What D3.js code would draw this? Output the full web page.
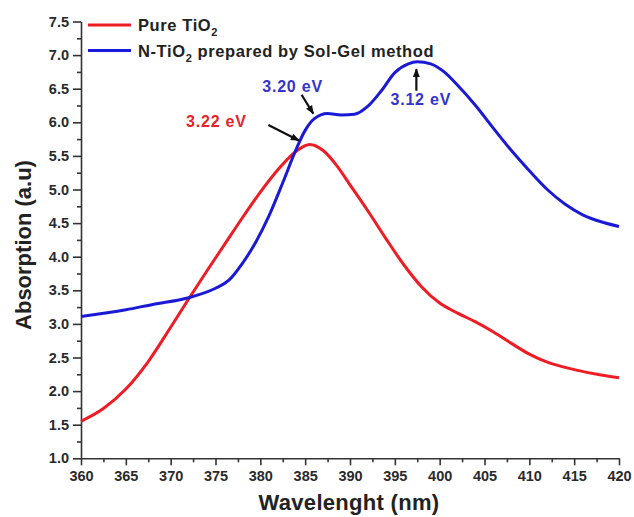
<!DOCTYPE html>
<html>
<head>
<meta charset="utf-8">
<script src="https://cdn.jsdelivr.net/npm/d3@7"></script>
<style>
  body { margin: 0; background: #fff; }
  svg { display: block; font-family: Arial, "Liberation Sans", sans-serif; }
</style>
</head>
<body>
<svg id="chart" width="634" height="517"></svg>
<script>
// wavelength (nm) / absorption
const pureWl  = [360, 362.5, 365, 367.5, 370, 372, 374, 376, 378, 380, 382, 384, 385.5, 387, 388.5, 390, 392, 394, 396, 398, 400, 402, 404, 406, 408, 410, 412, 415, 418, 420];
const pureAbs = [1.55, 1.74, 2.03, 2.44, 2.95, 3.37, 3.78, 4.18, 4.58, 4.96, 5.30, 5.57, 5.67, 5.58, 5.36, 5.07, 4.68, 4.27, 3.88, 3.55, 3.31, 3.16, 3.03, 2.88, 2.71, 2.55, 2.43, 2.32, 2.24, 2.20];

const nWl  = [360, 365, 368, 372, 375, 376.5, 378, 379.5, 381, 382.5, 384, 385, 386, 387.5, 389, 390.5, 392, 393.5, 395, 396.5, 397.5, 399, 400.5, 402, 404, 406, 408, 410, 412, 414, 416, 418, 420];
const nAbs = [3.11, 3.21, 3.29, 3.39, 3.53, 3.65, 3.90, 4.22, 4.62, 5.10, 5.60, 5.88, 6.05, 6.13, 6.11, 6.12, 6.24, 6.47, 6.74, 6.87, 6.90, 6.87, 6.75, 6.55, 6.25, 5.91, 5.58, 5.28, 5.00, 4.78, 4.62, 4.52, 4.45];

const xTicks = d3.range(360, 421, 5);
const yTicks = d3.range(1, 7.51, 0.5);

// band gap labels (text at x,y, arrow from x1,y1 to x2,y2) in data units
const notes = [
  {text: "3.22 eV", color: "#e3242b", x: 375.1, y: 5.93, x1: 380.9, y1: 5.96, x2: 384.3, y2: 5.73},
  {text: "3.20 eV", color: "#3434cc", x: 383.6, y: 6.45, x1: 384.6, y1: 6.41, x2: 385.9, y2: 6.13},
  {text: "3.12 eV", color: "#3434cc", x: 397.9, y: 6.26, x1: 397.4, y1: 6.47, x2: 397.4, y2: 6.79}
];

var width = 634, height = 517;
var margin = {top: 21.5, right: 15, bottom: 58.7, left: 81};

const svg = d3.select("#chart");

const x = d3.scaleLinear().domain([360, 420]).range([margin.left, width - margin.right]);
const y = d3.scaleLinear().domain([1, 7.5]).range([height - margin.bottom, margin.top]);

svg.append("defs").append("marker")
    .attr("id", "arr")
    .attr("viewBox", "0 0 10 10")
    .attr("refX", 9).attr("refY", 5)
    .attr("markerWidth", 4).attr("markerHeight", 4)
    .attr("orient", "auto")
  .append("path")
    .attr("d", "M0,1 L10,5 L0,9 z")
    .attr("fill", "#111");

// axes
svg.append("g")
    .attr("transform", "translate(0," + (height - margin.bottom) + ")")
    .call(d3.axisBottom(x).tickValues(xTicks).tickSize(7).tickPadding(5).tickSizeOuter(0));
svg.append("g")
    .attr("transform", "translate(0," + (height - margin.bottom) + ")")
    .call(d3.axisBottom(x).tickValues(xTicks.slice(0, -1).map(d => d + 2.5)).tickSize(4).tickFormat("").tickSizeOuter(0))
    .select(".domain").remove();

svg.append("g")
    .attr("transform", "translate(" + margin.left + ",0)")
    .call(d3.axisLeft(y).tickValues(yTicks).tickFormat(d3.format(".1f")).tickSize(8).tickPadding(4).tickSizeOuter(0));
svg.append("g")
    .attr("transform", "translate(" + margin.left + ",0)")
    .call(d3.axisLeft(y).tickValues(yTicks.slice(0, -1).map(d => d + 0.25)).tickSize(4).tickFormat("").tickSizeOuter(0))
    .select(".domain").remove();

svg.selectAll(".domain, .tick line").attr("stroke", "#333").attr("stroke-width", 1.6);
svg.selectAll(".tick text")
    .attr("font-size", 14.5)
    .attr("font-weight", "bold")
    .attr("fill", "#2a2a2a")
    .attr("font-family", "Arial, 'Liberation Sans', sans-serif");

// axis titles
svg.append("text")
    .attr("x", 349)
    .attr("y", 510)
    .attr("text-anchor", "middle")
    .attr("font-size", 22)
    .attr("font-weight", "bold")
    .attr("letter-spacing", 0.3)
    .attr("fill", "#222")
    .text("Wavelenght (nm)");

svg.append("text")
    .attr("transform", "translate(31,245) rotate(-90)")
    .attr("text-anchor", "middle")
    .attr("font-size", 22)
    .attr("font-weight", "bold")
    .attr("fill", "#222")
    .text("Absorption (a.u)");

// curves
const line = d3.line().x(d => x(d[0])).y(d => y(d[1])).curve(d3.curveMonotoneX);

svg.append("path")
    .datum(d3.zip(pureWl, pureAbs))
    .attr("fill", "none")
    .attr("stroke", "#ee1c24")
    .attr("stroke-width", 3)
    .attr("d", line);

svg.append("path")
    .datum(d3.zip(nWl, nAbs))
    .attr("fill", "none")
    .attr("stroke", "#1a1ad6")
    .attr("stroke-width", 3)
    .attr("d", line);

// annotations
svg.selectAll(".note")
  .data(notes)
  .join("text")
    .attr("class", "note")
    .attr("x", d => x(d.x))
    .attr("y", d => y(d.y))
    .attr("text-anchor", "middle")
    .attr("font-size", 16)
    .attr("font-weight", "bold")
    .attr("letter-spacing", 0.8)
    .attr("fill", d => d.color)
    .text(d => d.text);

svg.selectAll(".arrow")
  .data(notes)
  .join("line")
    .attr("class", "arrow")
    .attr("x1", d => x(d.x1)).attr("y1", d => y(d.y1))
    .attr("x2", d => x(d.x2)).attr("y2", d => y(d.y2))
    .attr("stroke", "#111")
    .attr("stroke-width", 2.2)
    .attr("marker-end", "url(#arr)");

// legend
const legend = [
  {name: "Pure TiO", sub: "2", rest: "", color: "#ee1c24"},
  {name: "N-TiO", sub: "2", rest: " prepared by Sol-Gel method", color: "#1a1ad6"}
];

const lg = svg.append("g").selectAll("g")
  .data(legend)
  .join("g")
    .attr("transform", (d, i) => "translate(88," + (25 + i * 25.5) + ")");

lg.append("line")
    .attr("x1", 0).attr("x2", 43)
    .attr("stroke", d => d.color)
    .attr("stroke-width", 3);

let lt = lg.append("text")
    .attr("x", 50)
    .attr("y", 6)
    .attr("font-size", 16.5)
    .attr("font-weight", "bold")
    .attr("letter-spacing", 0.6)
    .attr("fill", "#222");
lt.append("tspan").text(d => d.name);
lt.append("tspan").attr("dy", 5).attr("font-size", 11).text(d => d.sub);
lt.append("tspan").attr("dy", -5).text(d => d.rest);
</script>
</body>
</html>
